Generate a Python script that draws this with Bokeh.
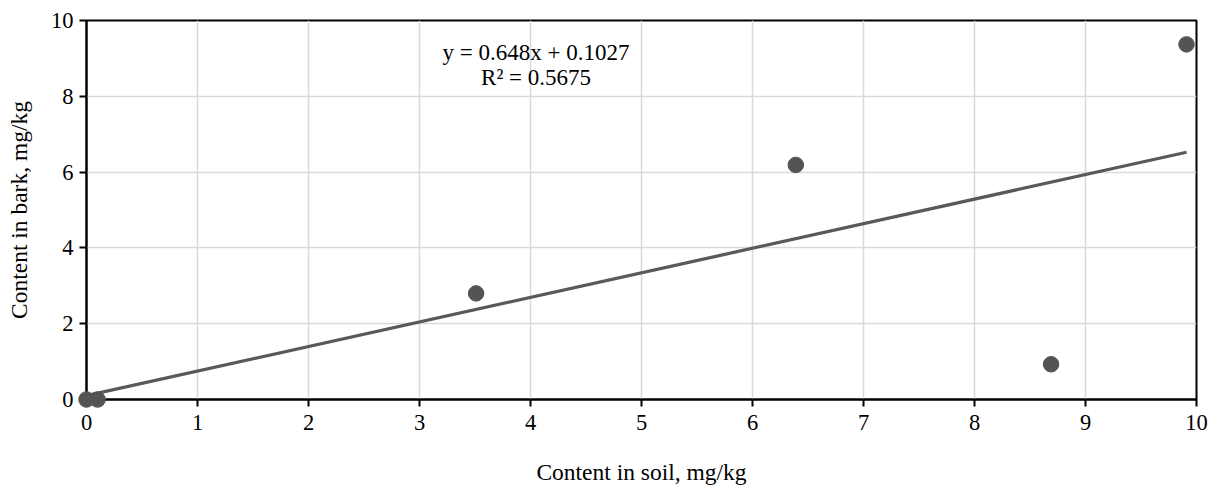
from bokeh.plotting import figure
from bokeh.models import Range1d, FixedTicker, ColumnDataSource
from bokeh.core.properties import value
from bokeh.embed import file_html
from bokeh.resources import INLINE

# Data
soil = [0.0, 0.1, 3.51, 6.39, 8.69, 9.91]
bark = [0.0, 0.0, 2.80, 6.19, 0.93, 9.37]
slope = 0.648
intercept = 0.1027
equation_lines = ["y = 0.648x + 0.1027", "R² = 0.5675"]
ticks = [0, 1, 2, 3, 4, 5, 6, 7, 8, 9, 10]
y_ticks = [0, 2, 4, 6, 8, 10]

FONT = "Liberation Serif"
FS = "22.5px"

p = figure(width=1216, height=493, output_backend="svg", toolbar_location=None,
           x_range=Range1d(0, 10), y_range=Range1d(0, 10),
           min_border_left=86, min_border_right=20, min_border_top=20, min_border_bottom=94)
p.background_fill_color = "white"
p.border_fill_color = "white"
p.outline_line_color = "black"
p.outline_line_width = 2

for ax in (p.xaxis, p.yaxis):
    ax.axis_line_color = "black"
    ax.axis_line_width = 2
    ax.major_tick_line_color = "black"
    ax.major_tick_line_width = 2
    ax.major_tick_in = 0
    ax.major_tick_out = 7
    ax.minor_tick_line_color = None
    ax.major_label_text_font = FONT
    ax.major_label_text_font_size = FS
    ax.major_label_text_color = "black"
    ax.axis_label_text_font = FONT
    ax.axis_label_text_font_size = "23.5px"
    ax.axis_label_text_font_style = "normal"
    ax.axis_label_text_color = "black"

p.xaxis.ticker = FixedTicker(ticks=ticks)
p.yaxis.ticker = FixedTicker(ticks=y_ticks)
p.xaxis.axis_label = "Content in soil, mg/kg"
p.yaxis.axis_label = "Content in bark, mg/kg"
p.xaxis.major_label_standoff = 8
p.yaxis.major_label_standoff = 6
p.xaxis.axis_label_standoff = 26
p.yaxis.axis_label_standoff = 16

p.xgrid.ticker = FixedTicker(ticks=ticks)
p.ygrid.ticker = FixedTicker(ticks=y_ticks)
for g in (p.xgrid, p.ygrid):
    g.grid_line_color = "#d9d9d9"
    g.grid_line_width = 1.5

# Trendline from fitted coefficients
x0, x1 = min(soil), max(soil)
p.line([x0, x1], [slope * x0 + intercept, slope * x1 + intercept],
       line_color="#595959", line_width=3.25)

src = ColumnDataSource(dict(x=soil, y=bark))
p.scatter("x", "y", source=src, size=15.5, fill_color="#545454", line_color="#545454",
          level="overlay")

p.text(x=[4.05, 4.05], y=[9.16, 8.5], text=equation_lines,
       text_font=value(FONT), text_font_size="23px", text_color="black",
       text_align="center", text_baseline="middle")

open("out.html", "w").write(file_html(p, INLINE))
